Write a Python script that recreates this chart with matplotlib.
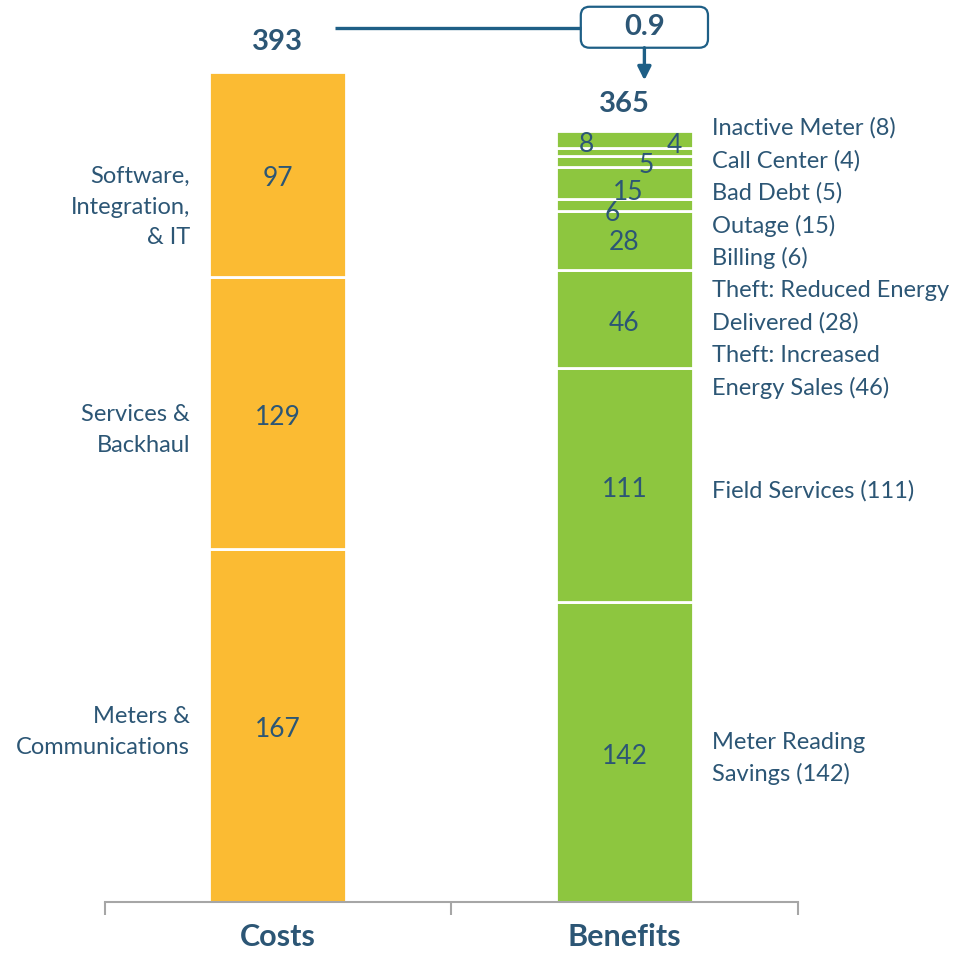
import matplotlib.pyplot as plt
from matplotlib.patches import FancyBboxPatch

plt.rcParams['font.family'] = ['Lato', 'DejaVu Sans']

# cost / benefit components, bottom to top
cost_labels = ["Meters &\nCommunications", "Services &\nBackhaul", "Software,\nIntegration,\n& IT"]
cost_values = [167, 129, 97]

benefit_labels = ["Meter Reading\nSavings", "Field Services", "Theft: Increased\nEnergy Sales",
                  "Theft: Reduced Energy\nDelivered", "Billing", "Outage", "Bad Debt",
                  "Call Center", "Inactive Meter"]
benefit_values = [142, 111, 46, 28, 6, 15, 5, 4, 8]

categories = ["Costs", "Benefits"]
ratio = 0.9

ORANGE = "#FBBB33"
GREEN = "#8DC63F"
TXT = "#2C5675"
LINE = "#1E5F86"

fig = plt.figure(figsize=(9.62, 9.58), dpi=100)
ax = fig.add_axes([0, 56 / 958, 1, 902 / 958])
ax.set_xlim(-0.802, 1.974)
ax.set_ylim(0, 427)

w = 0.395
px = 427 / 902  # data units per pixel (vertical)
LS = 1.58

def stack(x, vals, color):
    bottoms = []
    b = 0
    for v in vals:
        ax.bar(x, v, width=w, bottom=b, color=color, edgecolor="white", linewidth=2)
        bottoms.append(b)
        b += v
    return bottoms

cb = stack(0, cost_values, ORANGE)
bb = stack(1, benefit_values, GREEN)

# values inside cost bar + names on the left
for v, b in zip(cost_values, cb):
    ax.text(0, b + v / 2 - 2, str(v), ha="center", va="center", fontsize=19, color=TXT)
left_dy = [-3, -8, -15.5]
for v, b, lab, dy in zip(cost_values, cb, cost_labels, left_dy):
    ax.text(-0.254, b + v / 2 + dy, lab, ha="right", va="center", fontsize=17,
            color=TXT, linespacing=LS, multialignment="right")

# values inside benefit bar (small pieces are nudged sideways)
val_dx = [0, 0, 0, 0, -0.036, 0.012, 0.062, 0.143, -0.111]
val_dy = [-2, -2, -2, -1, -4, -4.5, -2, 3, -2.5]
for v, b, dx, dy in zip(benefit_values, bb, val_dx, val_dy):
    ax.text(1 + dx, b + v / 2 + dy, str(v), ha="center", va="center", fontsize=19, color=TXT)

# benefit names on the right
lab_x = 1.2525
top_px = 128
step = 32.5
lines = []
for lab, v in zip(benefit_labels[:1:-1], benefit_values[:1:-1]):
    lines.extend(f"{lab} ({v})".split("\n"))
for i, s in enumerate(lines):
    ax.text(lab_x, (902 - top_px - i * step) * px, s, ha="left", va="center",
            fontsize=17, color=TXT)
ax.text(lab_x, bb[1] + benefit_values[1] / 2 - 3, f"{benefit_labels[1]} ({benefit_values[1]})",
        ha="left", va="center", fontsize=17, color=TXT)
ax.text(lab_x, bb[0] + benefit_values[0] / 2 - 3, f"{benefit_labels[0]} ({benefit_values[0]})",
        ha="left", va="center", fontsize=17, color=TXT, linespacing=LS)

# totals
cost_total = sum(cost_values)
benefit_total = sum(benefit_values)
ax.text(0, cost_total + 14, str(cost_total), ha="center", va="center",
        fontsize=21, fontweight="bold", color=TXT)
ax.text(1, benefit_total + 13, str(benefit_total), ha="center", va="center",
        fontsize=21, fontweight="bold", color=TXT)

# ratio box with connector and arrow
bx0, bx1 = 0.874, 1.241
by0, by1 = 404.4, 423.8
bcx = (bx0 + bx1) / 2
ax.plot([0.1645, bx0], [413.8, 413.8], color=LINE, lw=2.4, solid_capstyle="butt")
box = FancyBboxPatch((bx0, by0), bx1 - bx0, by1 - by0,
                     boxstyle="round,pad=0,rounding_size=0.025",
                     mutation_aspect=346.5 / 2.112,
                     fc="white", ec=LINE, lw=1.6)
ax.add_patch(box)
ax.text(bcx, (by0 + by1) / 2, f"{ratio}", ha="center", va="center",
        fontsize=21, fontweight="bold", color=TXT)
ax.annotate("", xy=(bcx, benefit_total + 24), xytext=(bcx, by0),
            arrowprops=dict(arrowstyle="-|>,head_length=0.8,head_width=0.4",
                            color=LINE, lw=2.4, shrinkA=0, shrinkB=0))

# category axis
for s in ["top", "left", "right"]:
    ax.spines[s].set_visible(False)
ax.spines["bottom"].set_bounds(-0.5, 1.5)
ax.spines["bottom"].set_color("#A6A6A6")
ax.spines["bottom"].set_linewidth(1.5)
ax.set_yticks([])
ax.set_xticks([0, 1])
ax.set_xticklabels(categories, fontsize=22, fontweight="bold", color=TXT)
ax.tick_params(axis="x", which="major", length=0, pad=15)
ax.set_xticks([-0.5, 0.5, 1.5], minor=True)
ax.tick_params(axis="x", which="minor", length=9, width=1.5, color="#A6A6A6", direction="out")

fig.savefig("out.png", dpi=100)
